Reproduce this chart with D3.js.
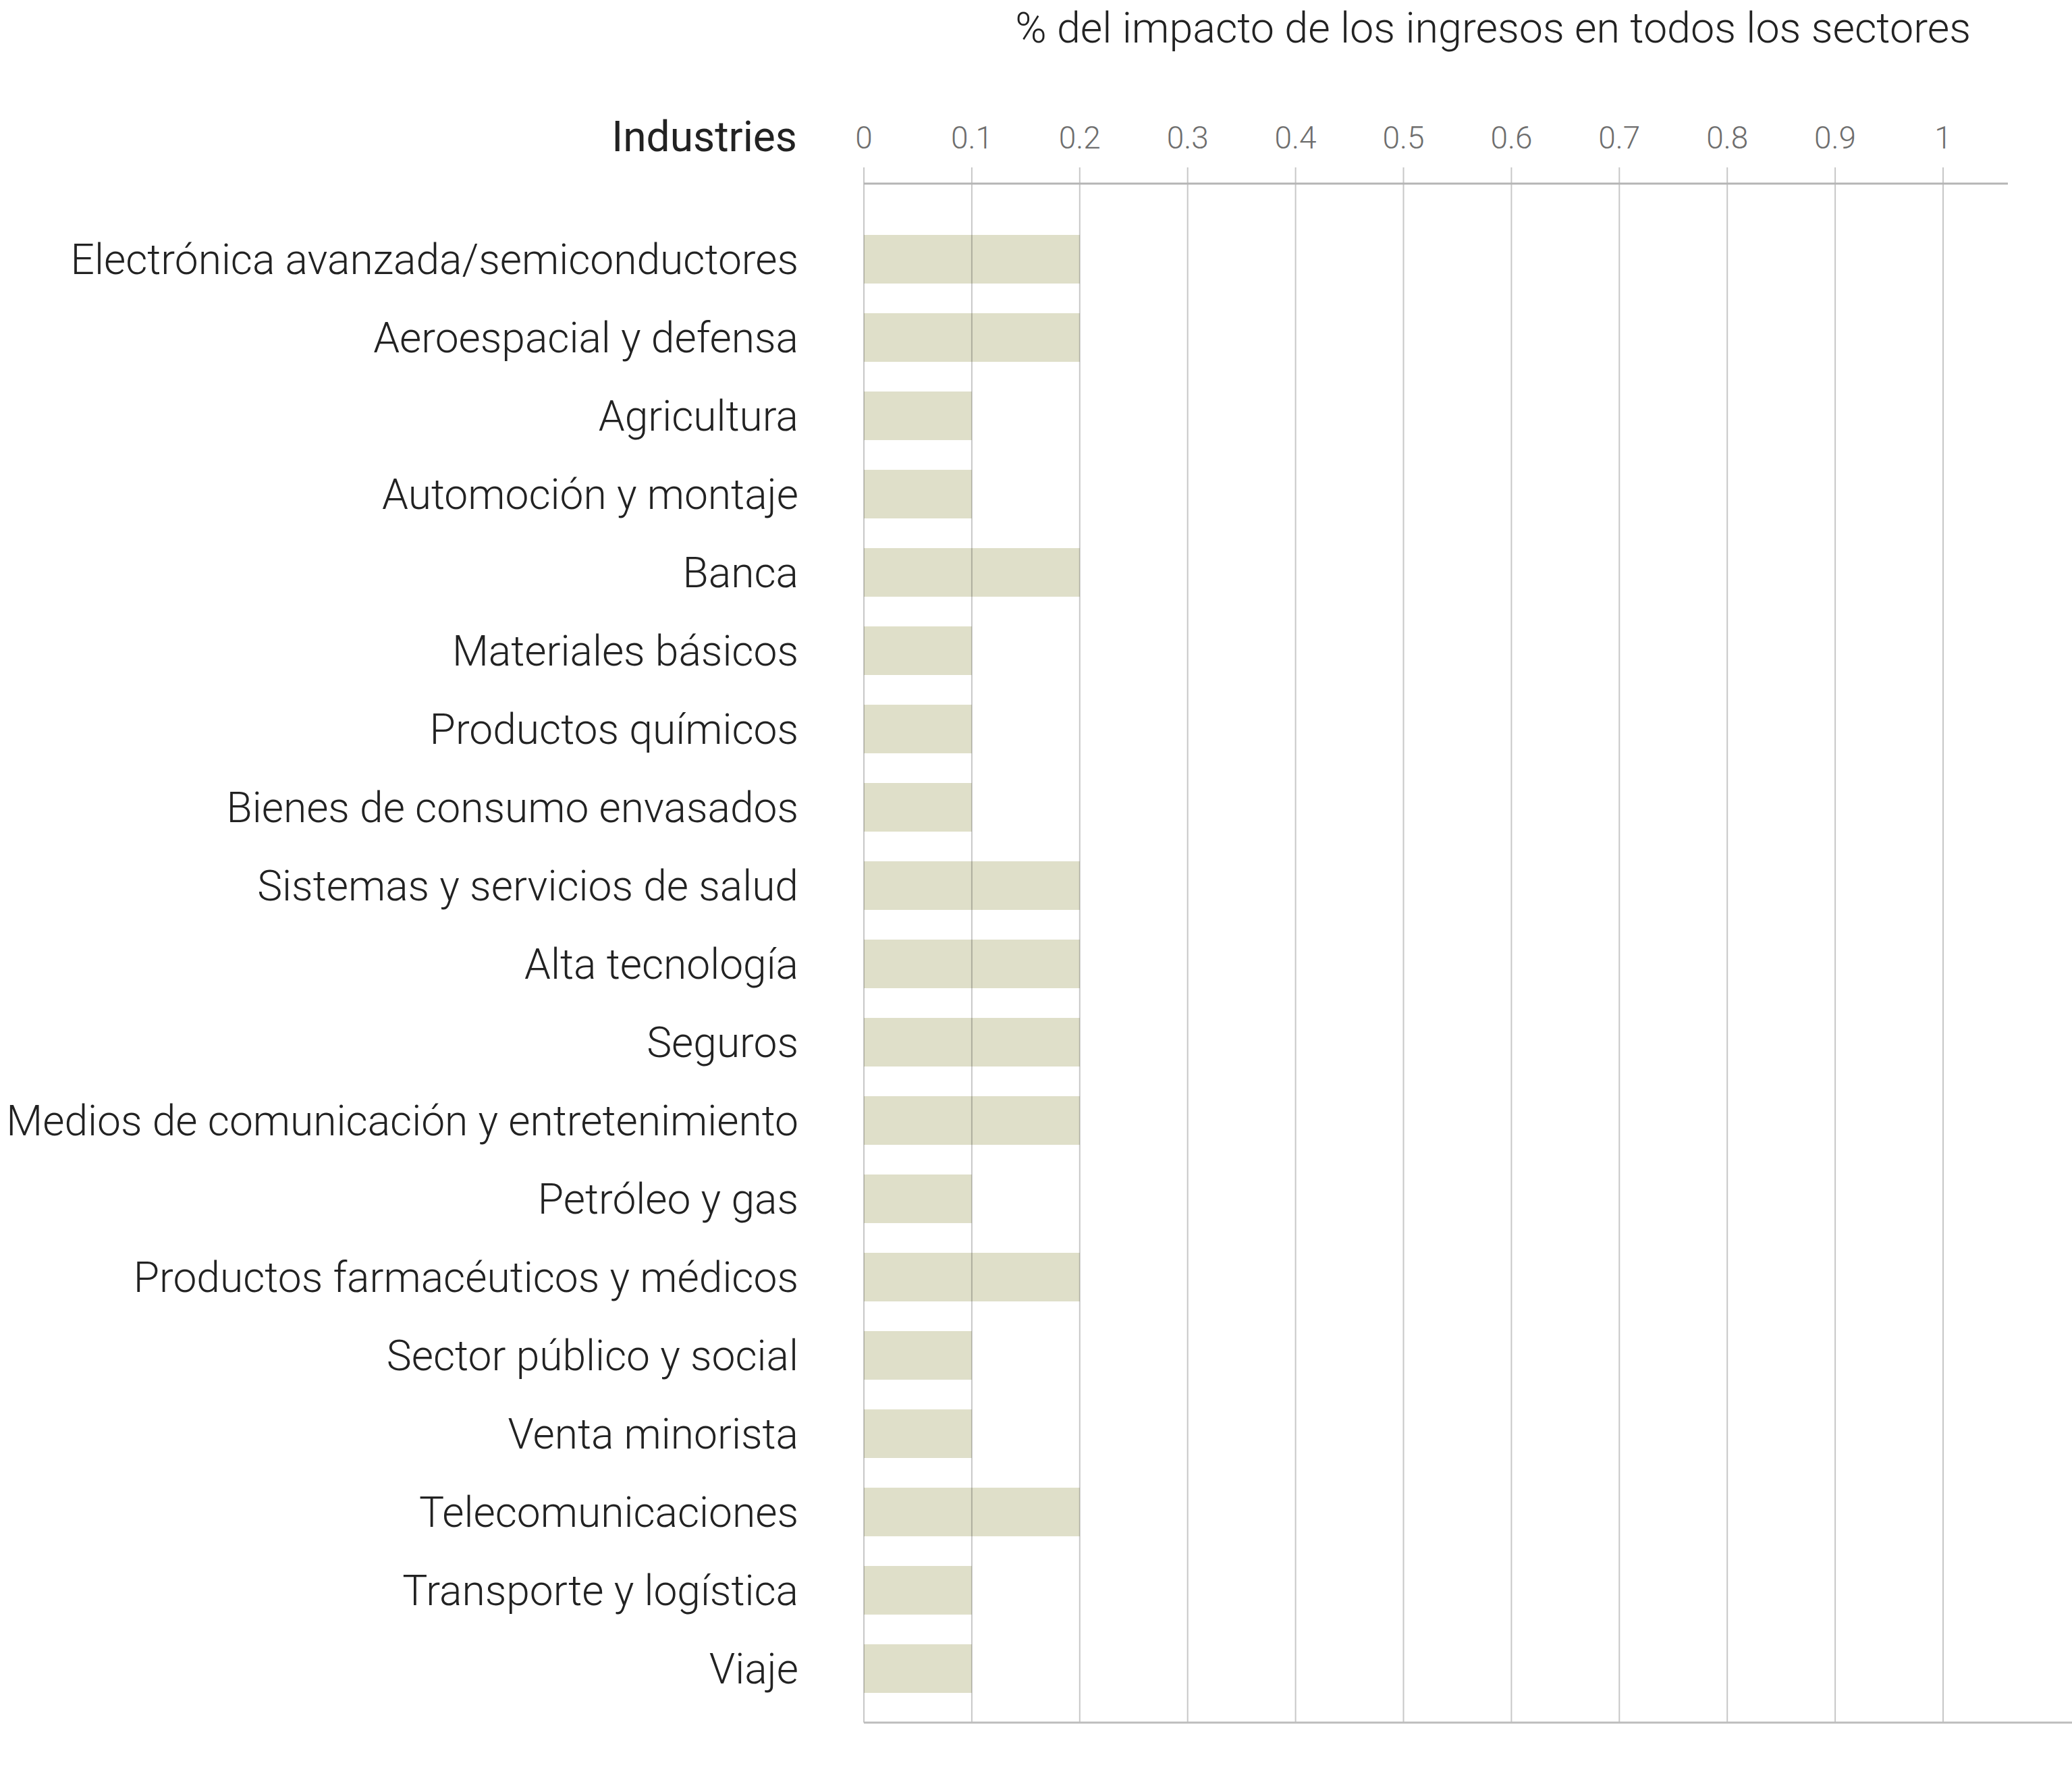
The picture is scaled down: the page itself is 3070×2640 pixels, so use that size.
<!DOCTYPE html>
<html>
<head>
<meta charset="utf-8">
<script src="https://cdn.jsdelivr.net/npm/d3@7"></script>
<style>
  html, body { margin: 0; padding: 0; background: #fff; }
  svg { display: block; }
  text { font-family: "Roboto", "Inter", "DejaVu Sans", sans-serif; }
</style>
</head>
<body>
<svg id="chart" width="3070" height="2640"></svg>
<script>
const categories = [
  "Electrónica avanzada/semiconductores",
  "Aeroespacial y defensa",
  "Agricultura",
  "Automoción y montaje",
  "Banca",
  "Materiales básicos",
  "Productos químicos",
  "Bienes de consumo envasados",
  "Sistemas y servicios de salud",
  "Alta tecnología",
  "Seguros",
  "Medios de comunicación y entretenimiento",
  "Petróleo y gas",
  "Productos farmacéuticos y médicos",
  "Sector público y social",
  "Venta minorista",
  "Telecomunicaciones",
  "Transporte y logística",
  "Viaje"
];
const values = [0.2, 0.2, 0.1, 0.1, 0.2, 0.1, 0.1, 0.1, 0.2, 0.2, 0.2, 0.2, 0.1, 0.2, 0.1, 0.1, 0.2, 0.1, 0.1];
const tickValues = [0, 0.1, 0.2, 0.3, 0.4, 0.5, 0.6, 0.7, 0.8, 0.9, 1];
const titleText = "% del impacto de los ingresos en todos los sectores";
const headerText = "Industries";

const svg = d3.select("#chart");

const x = d3.scaleLinear().domain([0, 1]).range([1280, 2879]);
const y = d3.scaleBand().domain(categories).range([326, 2530])
  .paddingInner(0.3793).paddingOuter(0.19);

const axisTop = 272, axisBottom = 2552;

// bars
svg.append("g").selectAll("rect")
  .data(categories.map((c, i) => ({ c, v: values[i] })))
  .join("rect")
  .attr("x", x(0))
  .attr("y", d => y(d.c))
  .attr("width", d => x(d.v) - x(0))
  .attr("height", y.bandwidth())
  .attr("fill", "#dfdfc9");

// gridlines
svg.append("g").selectAll("line")
  .data(tickValues)
  .join("line")
  .attr("x1", d => x(d)).attr("x2", d => x(d))
  .attr("y1", 248).attr("y2", axisBottom)
  .attr("stroke", "rgba(0,0,0,0.22)")
  .attr("stroke-width", 2);

// axis lines
svg.append("line")
  .attr("x1", x(0)).attr("x2", 2975)
  .attr("y1", axisTop).attr("y2", axisTop)
  .attr("stroke", "#b5b5b5").attr("stroke-width", 3);
svg.append("line")
  .attr("x1", x(0)).attr("x2", 3070)
  .attr("y1", axisBottom).attr("y2", axisBottom)
  .attr("stroke", "#bdbdbd").attr("stroke-width", 3);

// tick labels
svg.append("g").selectAll("text")
  .data(tickValues)
  .join("text")
  .attr("x", d => x(d))
  .attr("y", 220)
  .attr("text-anchor", "middle")
  .attr("font-size", 46)
  .attr("font-weight", 300)
  .attr("fill", "#6e6e6e")
  .text(d => d3.format("")(d));

// category labels
const labels = svg.append("g").selectAll("text")
  .data(categories)
  .join("text")
  .attr("x", 1183)
  .attr("y", d => y(d) + y.bandwidth() / 2)
  .attr("dy", "0.35em")
  .attr("text-anchor", "end")
  .attr("font-size", 60)
  .attr("font-weight", 300)
  .attr("fill", "#222")
  .text(d => d);

// fit label font size to the reference width of the longest label
let maxW = 0;
labels.each(function () { maxW = Math.max(maxW, this.getComputedTextLength()); });
const labelSize = 60 * 1174 / maxW;
labels.attr("font-size", labelSize);

// header
svg.append("text")
  .attr("x", 1181).attr("y", 224)
  .attr("text-anchor", "end")
  .attr("font-size", labelSize)
  .attr("font-weight", 400)
  .attr("fill", "#222")
  .text(headerText);

// title
const title = svg.append("text")
  .attr("x", 2920).attr("y", 63)
  .attr("text-anchor", "end")
  .attr("font-size", 60)
  .attr("font-weight", 300)
  .attr("fill", "#222")
  .text(titleText);
const tw = title.node().getComputedTextLength();
title.attr("font-size", 60 * 1416 / tw);
</script>
</body>
</html>
